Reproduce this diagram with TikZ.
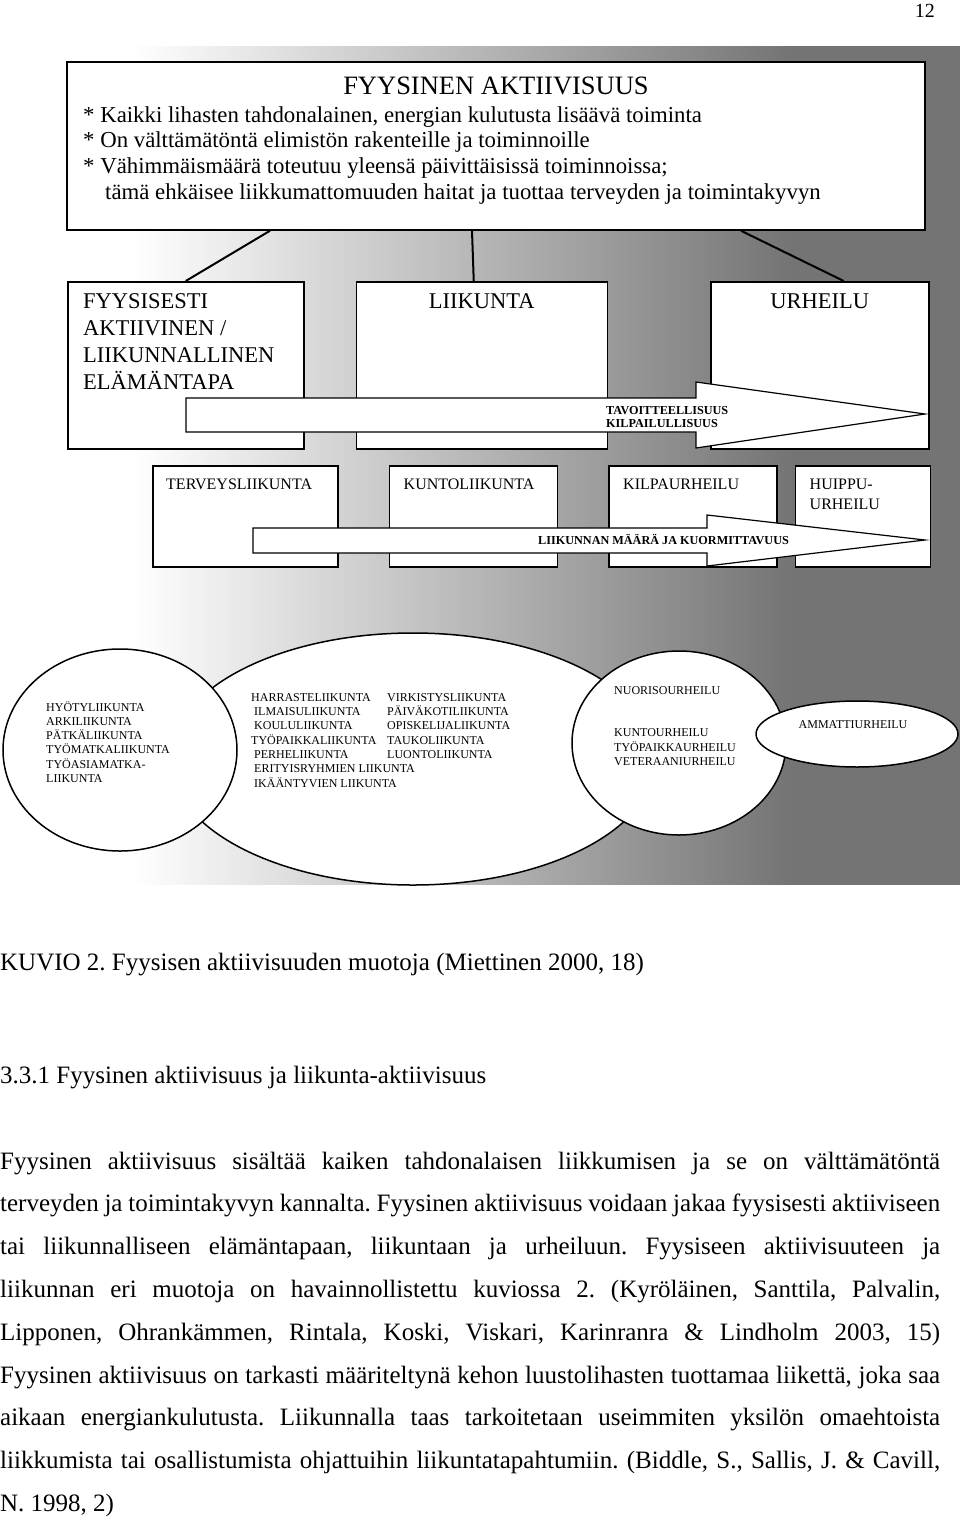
\documentclass[tikz,border=0pt]{standalone}
\usepackage{fontspec}
\setmainfont{Liberation Serif}
\usetikzlibrary{shapes.geometric, positioning, calc}
\definecolor{bggray}{RGB}{116,116,116}
\pgfdeclarehorizontalshading{bgfade}{100bp}{color(0bp)=(white); color(31bp)=(white);
  color(66bp)=(bggray); color(100bp)=(bggray)}
\tikzset{
  frame/.style={rectangle, draw, line width=1.5pt, fill=white, inner sep=0pt},
  conn/.style={line width=2pt},
  bigarrow/.style={draw, line width=1.2pt, fill=white},
  oval/.style={ellipse, draw, line width=1.5pt, fill=white, inner sep=0pt},
  ttl/.style={font=\fontsize{26.5}{30}\selectfont, inner sep=0pt},
  bullet/.style={font=\fontsize{22.8}{25.8}\selectfont, inner sep=0pt, align=left},
  headtxt/.style={font=\fontsize{22.5}{27}\selectfont, inner sep=0pt, align=left},
  rowtxt/.style={font=\fontsize{16}{20}\selectfont, inner sep=0pt, align=left},
  ovaltxt/.style={font=\fontsize{12}{14.3}\selectfont, inner sep=0pt, align=left},
  arrtxt/.style={font=\bfseries\fontsize{12.2}{13}\selectfont, inner sep=0pt, align=left},
  pagetxt/.style={font=\fontsize{25}{42.8}\selectfont\frenchspacing, inner sep=0pt}
}

\begin{document}
\begin{tikzpicture}[x=1pt, y=-1pt]
  \useasboundingbox (0,0) rectangle (960,1518);
  \fill[white] (0,0) rectangle (960,1518);

  \node[pagetxt, font=\fontsize{20}{24}\selectfont, anchor=base east] (pnum) at (935,17) {12};

  %% background
  \shade[shading=bgfade] (20,46) rectangle (960,884);

  %% top box (multi-line nodes sit on their last baseline)
  \node[frame, minimum width=858pt, minimum height=168pt] (fa) at (496,146) {};
  \node[ttl, anchor=base] (fatitle) at (496,94.5) {FYYSINEN AKTIIVISUUS};
  \node[bullet, anchor=base west] (fatext) at (83,199.4)
    {* Kaikki lihasten tahdonalainen, energian kulutusta lisäävä toiminta\\
     * On välttämätöntä elimistön rakenteille ja toiminnoille\\
     * Vähimmäismäärä toteutuu yleensä päivittäisissä toiminnoissa;\\
     \hspace*{22pt}tämä ehkäisee liikkumattomuuden haitat ja tuottaa terveyden ja toimintakyvyn};

  %% first row
  \node[frame, minimum width=236pt, minimum height=167pt, anchor=north west] (fyys) at (67,281) {};
  \node[frame, minimum width=251pt, minimum height=167pt, right=51pt of fyys] (liik) {};
  \node[frame, minimum width=218pt, minimum height=167pt, right=102pt of liik] (urh) {};

  \draw[conn] ([xshift=-226pt]fa.south) -- (fyys.north);
  \draw[conn] ([xshift=-24pt]fa.south) -- ([xshift=-8pt]liik.north);
  \draw[conn] ([xshift=245pt]fa.south) -- ([xshift=24pt]urh.north);

  %% second row
  \node[frame, minimum width=185pt, minimum height=101pt, anchor=north west] (terv) at (152,465) {};
  \node[frame, minimum width=168pt, minimum height=101pt, right=50pt of terv] (kunto) {};
  \node[frame, minimum width=168pt, minimum height=101pt, right=50pt of kunto] (kilpa) {};
  \node[frame, minimum width=135pt, minimum height=101pt, right=17pt of kilpa] (huippu) {};

  %% block arrows
  \draw[bigarrow] (186,398) -- (696,398) -- (696,382) -- (925,414) -- (696,448)
    -- (696,432) -- (186,432) -- cycle;
  \draw[bigarrow] (253,528) -- (707,528) -- (707,515) -- (925,540) -- (707,566)
    -- (707,553) -- (253,553) -- cycle;

  %% box texts
  \node[headtxt, anchor=base west] (fyystxt) at ([xshift=16pt, yshift=-108pt]fyys.north west)
    {FYYSISESTI\\AKTIIVINEN /\\LIIKUNNALLINEN\\ELÄMÄNTAPA};
  \node[headtxt, anchor=base] (liiktxt) at ([yshift=-27pt]liik.north) {LIIKUNTA};
  \node[headtxt, anchor=base] (urhtxt) at ([yshift=-27pt]urh.north) {URHEILU};
  \node[arrtxt, anchor=base west] (tavo) at (606,427) {TAVOITTEELLISUUS\\KILPAILULLISUUS};

  \node[rowtxt, anchor=base west] (tervtxt) at ([xshift=14pt, yshift=-24pt]terv.north west) {TERVEYSLIIKUNTA};
  \node[rowtxt, anchor=base west] (kuntotxt) at ([xshift=15pt, yshift=-24pt]kunto.north west) {KUNTOLIIKUNTA};
  \node[rowtxt, anchor=base west] (kilpatxt) at ([xshift=15pt, yshift=-24pt]kilpa.north west) {KILPAURHEILU};
  \node[rowtxt, anchor=base west] (huipputxt) at ([xshift=15pt, yshift=-44pt]huippu.north west) {HUIPPU-\\URHEILU};
  \node[arrtxt, anchor=base west] (maara) at (538,544) {LIIKUNNAN MÄÄRÄ JA KUORMITTAVUUS};

  %% ellipses
  \node[oval, minimum width=486pt, minimum height=252pt] (harr) at (413,759) {};
  \node[oval, minimum width=234pt, minimum height=202pt] (hyoty) at (120,750) {};
  \node[oval, minimum width=214pt, minimum height=184pt] (nuor) at (679,743) {};
  \node[oval, minimum width=202pt, minimum height=66pt] (ammat) at (857,734) {};

  \node[ovaltxt, anchor=base west] (hyotytxt) at (46,782.5)
    {HYÖTYLIIKUNTA\\ARKILIIKUNTA\\PÄTKÄLIIKUNTA\\TYÖMATKALIIKUNTA\\TYÖASIAMATKA-\\LIIKUNTA};
  \node[ovaltxt, anchor=base west] (harrtxt) at (251,787.1)
    {HARRASTELIIKUNTA\\ \hspace*{3pt}ILMAISULIIKUNTA\\ \hspace*{3pt}KOULULIIKUNTA\\TYÖPAIKKALIIKUNTA\\
     \hspace*{3pt}PERHELIIKUNTA\\ \hspace*{3pt}ERITYISRYHMIEN LIIKUNTA\\ \hspace*{3pt}IKÄÄNTYVIEN LIIKUNTA};
  \node[ovaltxt, anchor=base west] (harrtxtb) at (387,758.5)
    {VIRKISTYSLIIKUNTA\\PÄIVÄKOTILIIKUNTA\\OPISKELIJALIIKUNTA\\TAUKOLIIKUNTA\\LUONTOLIIKUNTA};
  \node[ovaltxt, anchor=base west] (nuortxt) at (614,694) {NUORISOURHEILU};
  \node[ovaltxt, anchor=base west] (kuntourh) at (614,765.3)
    {KUNTOURHEILU\\TYÖPAIKKAURHEILU\\VETERAANIURHEILU};
  \node[ovaltxt, anchor=base] (ammattxt) at (853,728) {AMMATTIURHEILU};

  %% caption and text
  \node[pagetxt, anchor=base west] (caption) at (0,970)
    {KUVIO 2. Fyysisen aktiivisuuden muotoja (Miettinen 2000, 18)};
  \node[pagetxt, anchor=base west] (section) at (0,1083)
    {3.3.1 Fyysinen aktiivisuus ja liikunta-aktiivisuus};
  \node[pagetxt, text width=940pt, align=justify, anchor=base west] (body) at (0,1169)
    {\hyphenpenalty=10000 \tolerance=9999 \emergencystretch=20pt
     Fyysinen aktiivisuus sisältää kaiken tahdonalaisen liikkumisen ja se on välttämätöntä\linebreak
     terveyden ja toimintakyvyn kannalta. Fyysinen aktiivisuus voidaan jakaa fyysisesti aktiiviseen\linebreak
     tai liikunnalliseen elämäntapaan, liikuntaan ja urheiluun. Fyysiseen aktiivisuuteen ja\linebreak
     liikunnan eri muotoja on havainnollistettu kuviossa 2. (Kyröläinen, Santtila, Palvalin,\linebreak
     Lipponen, Ohrankämmen, Rintala, Koski, Viskari, Karinranra \& Lindholm 2003, 15)\linebreak
     Fyysinen aktiivisuus on tarkasti määriteltynä kehon luustolihasten tuottamaa liikettä, joka saa\linebreak
     aikaan energiankulutusta. Liikunnalla taas tarkoitetaan useimmiten yksilön omaehtoista\linebreak
     liikkumista tai osallistumista ohjattuihin liikuntatapahtumiin. (Biddle, S., Sallis, J. \& Cavill,\linebreak
     N. 1998, 2)};
\end{tikzpicture}
\end{document}
